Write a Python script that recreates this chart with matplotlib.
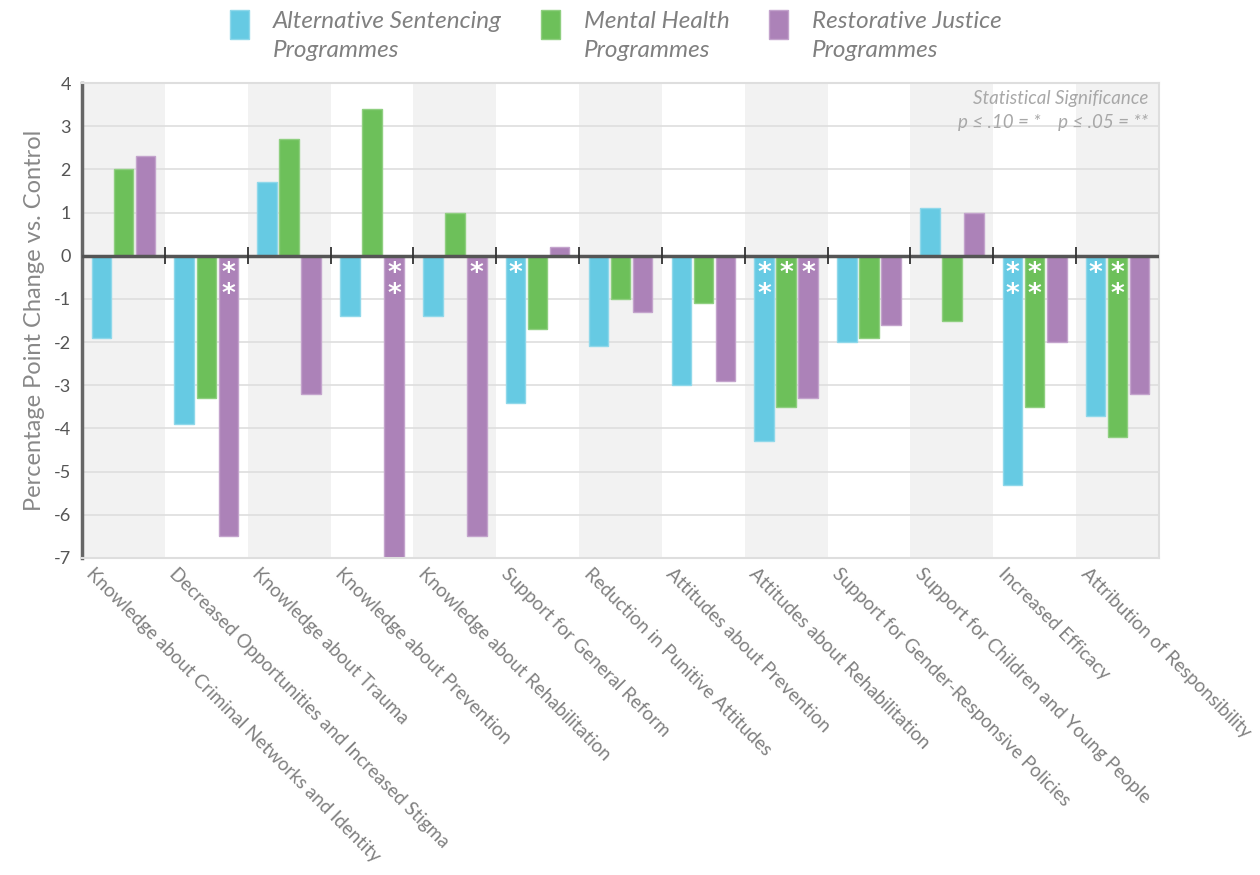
import numpy as np
import matplotlib.pyplot as plt
import matplotlib.transforms as mtransforms
from matplotlib.patches import Patch, Rectangle
from matplotlib.legend_handler import HandlerPatch

plt.rcParams['font.family'] = ['Lato', 'DejaVu Sans']
plt.rcParams['axes.unicode_minus'] = False

categories = [
    'Knowledge about Criminal Networks and Identity',
    'Decreased Opportunities and Increased Stigma',
    'Knowledge about Trauma',
    'Knowledge about Prevention',
    'Knowledge about Rehabilitation',
    'Support for General Reform',
    'Reduction in Punitive Attitudes',
    'Attitudes about Prevention',
    'Attitudes about Rehabilitation',
    'Support for Gender-Responsive Policies',
    'Support for Children and Young People',
    'Increased Efficacy',
    'Attribution of Responsibility',
]
series = ['Alternative Sentencing\nProgrammes', 'Mental Health\nProgrammes',
          'Restorative Justice\nProgrammes']

alt_sentencing = [-1.9, -3.9, 1.7, -1.4, -1.4, -3.4, -2.1, -3.0, -4.3, -2.0, 1.1, -5.3, -3.7]
mental_health = [2.0, -3.3, 2.7, 3.4, 1.0, -1.7, -1.0, -1.1, -3.5, -1.9, -1.5, -3.5, -4.2]
restorative = [2.3, -6.5, -3.2, -7.0, -6.5, 0.2, -1.3, -2.9, -3.3, -1.6, 1.0, -2.0, -3.2]

# significance stars per series (''= none, '*' p<=.10, '**' p<=.05)
alt_sig = ['', '', '', '', '', '*', '', '', '**', '', '', '**', '*']
mh_sig = ['', '', '', '', '', '', '', '', '*', '', '', '**', '**']
rj_sig = ['', '**', '', '**', '*', '', '', '', '*', '', '', '', '']

colors = ['#66cae3', '#6dc05a', '#ac82b8']
edges = ['#8fd8ea', '#8fcf80', '#c3a3cc']
grey = '#808080'

fig = plt.figure(figsize=(12.6, 8.75), dpi=100)
ax = fig.add_axes([82 / 1260, 1 - 558 / 875, (1159 - 82) / 1260, (558 - 83) / 875])

n = len(categories)
x = np.arange(n)
for i in range(0, n, 2):
    ax.axvspan(i - 0.5, i + 0.5, color='#f2f2f2', zorder=0, lw=0)

for y in range(-7, 5):
    ax.axhline(y, color='#dedede', lw=1.2, zorder=1)

width = 0.235
offset = 0.266
data = [alt_sentencing, mental_health, restorative]
sigs = [alt_sig, mh_sig, rj_sig]
for k, (vals, sig) in enumerate(zip(data, sigs)):
    xs = x + (k - 1) * offset
    ax.bar(xs, vals, width, color=colors[k], edgecolor=edges[k], lw=1, zorder=2)
    for xi, s in zip(xs, sig):
        if s:
            ax.text(xi, -0.12, '\n'.join(s), color='white', fontsize=19,
                    fontweight='bold', ha='center', va='top', zorder=4,
                    linespacing=0.75, family='DejaVu Sans')

ax.axhline(0, color='#555555', lw=2.5, zorder=3)
ax.vlines(np.arange(0.5, n - 1), -0.2, 0.2, color='#333333', lw=1.3, zorder=3)

ax.set_xlim(-0.5, n - 0.5)
ax.set_ylim(-7, 4)
ax.set_yticks(range(-7, 5))
ax.set_yticklabels([str(v) for v in range(-7, 5)])
ax.tick_params(axis='y', length=0, labelsize=13, colors='#555555', pad=8)
ax.set_xticks(x)
ax.set_xticklabels(categories, rotation=-45, ha='left', rotation_mode='anchor',
                   fontsize=13.5, color=grey)
ax.tick_params(axis='x', length=0, pad=5)
shift = mtransforms.ScaledTranslation(-28 / 100, 0, fig.dpi_scale_trans)
for lbl in ax.get_xticklabels():
    lbl.set_transform(lbl.get_transform() + shift)

for side in ['top', 'right', 'bottom']:
    ax.spines[side].set_color('#dedede')
    ax.spines[side].set_linewidth(1.5)
ax.spines['left'].set_color('#666666')
ax.spines['left'].set_linewidth(2.5)

ax.set_ylabel('Percentage Point Change vs. Control', fontsize=17, color='#888888',
              labelpad=6)

ax.text(0.99, 0.985, 'Statistical Significance', transform=ax.transAxes,
        ha='right', va='top', fontsize=13.5, style='italic', color='#a8a8a8')
ax.text(0.99, 0.935, 'p ≤ .10 = *    p ≤ .05 = **', transform=ax.transAxes,
        ha='right', va='top', fontsize=13.5, style='italic', color='#a8a8a8')


# legend swatches sit level with the first line of each label
def top_swatch(legend, orig_handle, xdescent, ydescent, width, height, fontsize):
    return Rectangle((-xdescent, -ydescent + 8.5), width, height)


handles = [Patch(facecolor=c, edgecolor=e) for c, e in zip(colors, edges)]
leg = fig.legend(handles, series, loc='upper left', bbox_to_anchor=(208 / 1260, 1.012),
                 ncol=3, frameon=False, handlelength=0.78, handleheight=1.47,
                 columnspacing=1.6, handletextpad=1.0, labelcolor=grey,
                 prop={'style': 'italic', 'size': 17.5},
                 handler_map={Patch: HandlerPatch(patch_func=top_swatch)})
for t in leg.get_texts():
    t.set_linespacing(1.45)

fig.savefig('out.png', dpi=100)
